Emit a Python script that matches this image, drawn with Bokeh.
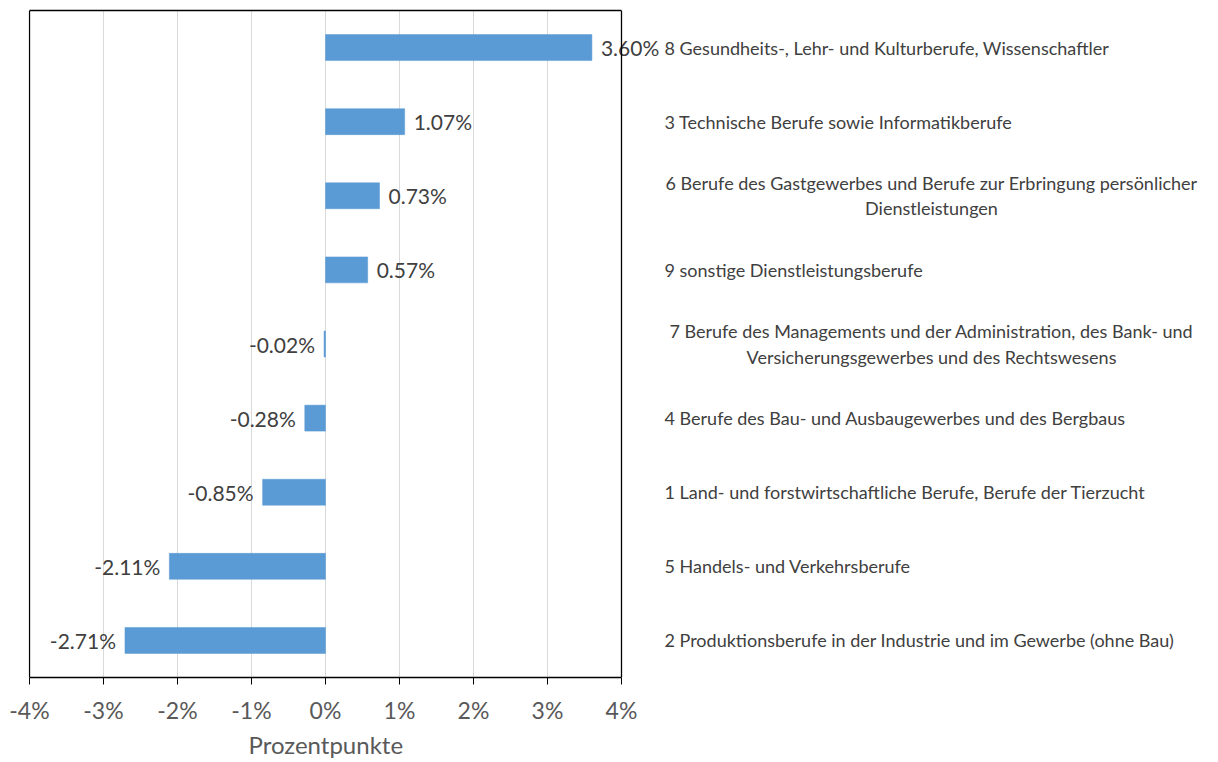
from bokeh.plotting import figure
from bokeh.models import (ColumnDataSource, FactorRange, FixedTicker, PrintfTickFormatter,
                          Range1d, LinearAxis, Span, Title)
from bokeh.core.properties import value
from bokeh.embed import file_html
from bokeh.resources import INLINE

# ---- data (top to bottom) ----
categories = [
    "8 Gesundheits-, Lehr- und Kulturberufe, Wissenschaftler",
    "3 Technische Berufe sowie Informatikberufe",
    "6 Berufe des Gastgewerbes und Berufe zur Erbringung persönlicher\nDienstleistungen",
    "9 sonstige Dienstleistungsberufe",
    "7 Berufe des Managements und der Administration, des Bank- und\nVersicherungsgewerbes und des Rechtswesens",
    "4 Berufe des Bau- und Ausbaugewerbes und des Bergbaus",
    "1 Land- und forstwirtschaftliche Berufe, Berufe der Tierzucht",
    "5 Handels- und Verkehrsberufe",
    "2 Produktionsberufe in der Industrie und im Gewerbe (ohne Bau)",
]
values = [3.60, 1.07, 0.73, 0.57, -0.02, -0.28, -0.85, -2.11, -2.71]
x_ticks = [-4, -3, -2, -1, 0, 1, 2, 3, 4]
x_title = "Prozentpunkte"

X_MIN, X_MAX = -4, 4
FONT = "Lato"

W, H = 1202, 761
LEFT, TOP, BOTTOM = 28, 10, 84
PX_PER_UNIT = 592 / (X_MAX - X_MIN)      # chart box is 592 px wide
x_start = X_MIN - 1 / PX_PER_UNIT         # 1 px so the left border stays visible
x_end = x_start + (W - LEFT) / PX_PER_UNIT

p = figure(
    width=W, height=H,
    y_range=FactorRange(factors=list(reversed(categories)), range_padding=0),
    x_range=Range1d(x_start, x_end),
    output_backend="svg", toolbar_location=None,
    min_border_left=LEFT, min_border_right=0, min_border_top=TOP, min_border_bottom=BOTTOM,
)
p.background_fill_color = "white"
p.border_fill_color = "white"
p.outline_line_color = None
p.yaxis.visible = False

src = ColumnDataSource(dict(
    cat=categories,
    val=values,
    label=["%.2f%%" % v for v in values],
    align=["left" if v >= 0 else "right" for v in values],
    off=[9 if v >= 0 else -9 for v in values],
))

# grid
p.ygrid.visible = False
p.xgrid.ticker = FixedTicker(ticks=x_ticks)
p.xgrid.grid_line_color = "#D9D9D9"
p.xgrid.grid_line_width = 1

p.hbar(y="cat", left=0, right="val", height=0.35, source=src,
       fill_color="#5B9BD5", line_color="#5B9BD5", line_width=0.5)

p.text(x="val", y="cat", text="label", source=src,
       x_offset="off", text_align="align", text_baseline="middle",
       text_font=value(FONT), text_font_size="21px", text_color="#404040")

cat_src = ColumnDataSource(dict(
    cat=categories,
    xr=[X_MAX] * len(categories),
    align=["center" if "\n" in c else "left" for c in categories],
    off=[310 if "\n" in c else 43 for c in categories],
))
p.text(x="xr", y="cat", text="cat", source=cat_src,
       x_offset="off", text_align="align", text_baseline="middle",
       text_font=value(FONT), text_font_size="18px", text_color="#404040",
       text_line_height=1.15)

# chart box: left & right = spans, top = blank axis, bottom = x axis
p.add_layout(Span(location=X_MIN, dimension="height", line_color="black", line_width=1.3))
p.add_layout(Span(location=X_MAX, dimension="height", line_color="black", line_width=1.3))
top_ax = LinearAxis(bounds=(X_MIN, X_MAX), ticker=FixedTicker(ticks=[]),
                    axis_line_color="black", axis_line_width=1.3,
                    major_tick_line_color=None, minor_tick_line_color=None)
p.add_layout(top_ax, "above")

ax = p.below[0]
ax.bounds = (X_MIN, X_MAX)
ax.ticker = FixedTicker(ticks=x_ticks)
ax.formatter = PrintfTickFormatter(format="%d%%")
ax.axis_line_color = "black"
ax.axis_line_width = 1.3
ax.major_tick_line_color = "black"
ax.major_tick_in = 0
ax.major_tick_out = 7
ax.minor_tick_line_color = None
ax.major_label_text_font = FONT
ax.major_label_text_font_size = "23px"
ax.major_label_text_color = "#595959"
ax.major_label_standoff = 11

# axis title, centred under the -4..4 box
p.add_layout(Title(text=x_title, align="left", offset=220, standoff=3,
                   text_font=FONT, text_font_size="24px", text_font_style="normal",
                   text_color="#595959"), "below")

open("out.html", "w").write(file_html(p, INLINE))
